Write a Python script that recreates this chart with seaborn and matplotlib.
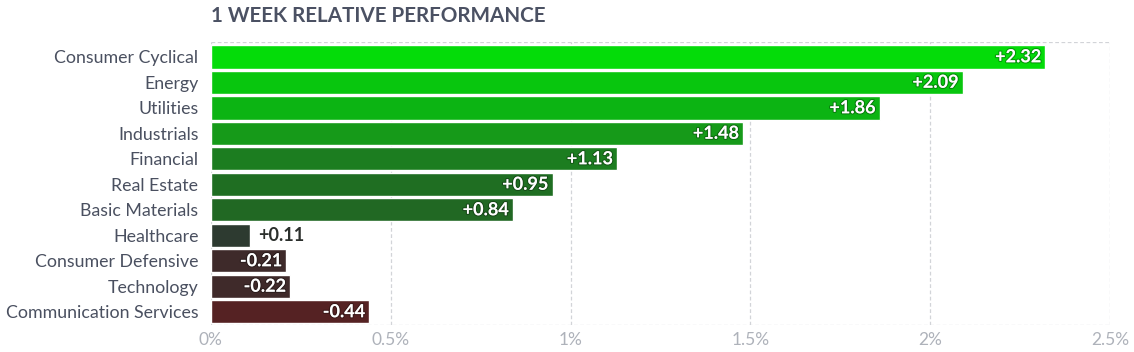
import seaborn as sns
import matplotlib.pyplot as plt
import matplotlib.patheffects as pe
import numpy as np
import pandas as pd

# 1 week relative performance by sector (values in %)
sectors = ['Consumer Cyclical', 'Energy', 'Utilities', 'Industrials', 'Financial',
           'Real Estate', 'Basic Materials', 'Healthcare', 'Consumer Defensive',
           'Technology', 'Communication Services']
perf = [2.32, 2.09, 1.86, 1.48, 1.13, 0.95, 0.84, 0.11, -0.21, -0.22, -0.44]
bar_colors = ['#04dc09', '#08c60e', '#0cb413', '#169a19', '#1c7d20', '#1f6e22',
              '#216823', '#2d3a30', '#3e2a2a', '#3f2a2a', '#552223']
xticks = [0, 0.5, 1, 1.5, 2, 2.5]
xtick_labels = ['0%', '0.5%', '1%', '1.5%', '2%', '2.5%']

df = pd.DataFrame({'sector': sectors, 'perf': perf})
df['size'] = df['perf'].abs()

sns.set_style('white')
plt.rcParams['font.family'] = ['Lato', 'DejaVu Sans']

fig = plt.figure(figsize=(11.34, 3.52), dpi=100)
ax = fig.add_axes([0.186, 0.0767, 0.793, 0.804])

sns.barplot(data=df, x='size', y='sector', hue='sector', palette=bar_colors,
            legend=False, width=0.92, saturation=1, ax=ax, zorder=2)

ax.set_xlim(0, 2.5)
ax.set_ylim(10.52, -0.58)
ax.set_xticks(xticks)
ax.set_xticklabels(xtick_labels, color='#aeb2ba', fontsize=12.5)
ax.tick_params(axis='x', length=0, pad=5)
ax.tick_params(axis='y', length=0, pad=9, labelsize=12.8, labelcolor='#4a5060')
ax.set_xlabel('')
ax.set_ylabel('')

for x in xticks:
    ax.axvline(x, color='#d2d4d8', lw=0.9, ls=(0, (3, 2)), zorder=0)
for s in ax.spines.values():
    s.set_visible(False)
ax.axhline(10.52, color='#d2d4d8', lw=0.9, ls=(0, (3, 2)), zorder=0)
ax.axhline(-0.58, color='#d2d4d8', lw=0.9, ls=(0, (3, 2)), zorder=0)

shadow = [pe.withStroke(linewidth=1.6, foreground=(0, 0, 0, 0.3))]
for i, v in enumerate(perf):
    txt = ('+' if v > 0 else '') + f'{v:.2f}'
    size = abs(v)
    if size >= 0.15:
        ax.text(size - 0.012, i, txt, ha='right', va='center', color='white',
                fontsize=13, fontweight='bold', path_effects=shadow, zorder=3)
    else:
        ax.text(size + 0.02, i, txt, ha='left', va='center', color='#2b2f2c',
                fontsize=13, fontweight='bold', zorder=3)

fig.text(0.186, 0.955, '1 WEEK RELATIVE PERFORMANCE', ha='left', va='center',
         fontsize=14.9, fontweight='bold', color='#4b5163')

plt.savefig('out.png', dpi=100)
